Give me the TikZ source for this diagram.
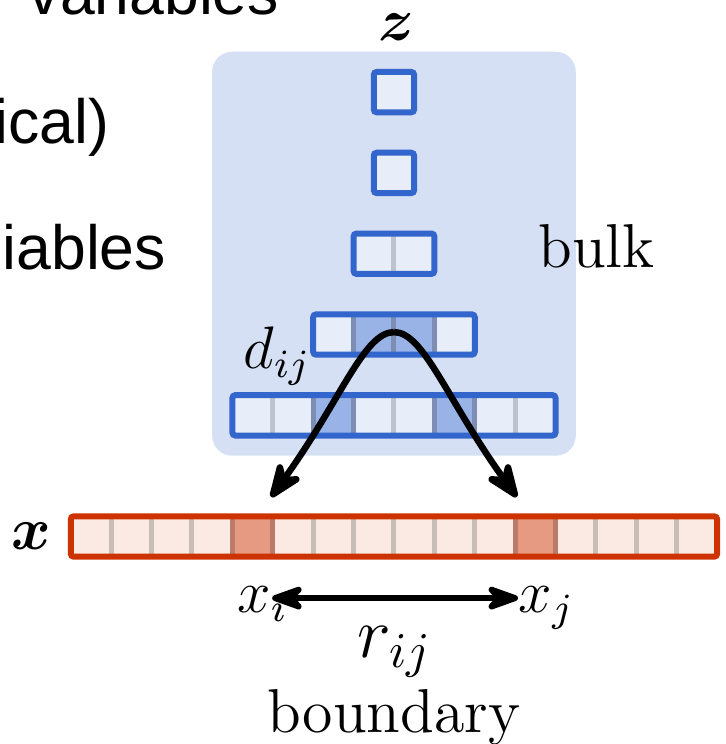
\documentclass[tikz,border=0pt]{standalone}
\usepackage{amsmath}
\usepackage{fontspec}
\newfontfamily\sidesans{Liberation Sans}
\usetikzlibrary{arrows.meta,positioning}

\definecolor{bulkbg}{HTML}{D5E0F4}
\definecolor{rowblue}{HTML}{3366CC}
\definecolor{cellblue}{HTML}{E8EEF9}
\definecolor{hotblue}{HTML}{9AB3E6}
\definecolor{sepblue}{HTML}{BFC3CD}
\definecolor{sephotblue}{HTML}{7D8DB4}
\definecolor{rowred}{HTML}{CC3300}
\definecolor{cellred}{HTML}{FAEAE3}
\definecolor{hotred}{HTML}{E69A82}
\definecolor{sepred}{HTML}{C9BEB7}
\definecolor{sephotred}{HTML}{BA7B6A}

\begin{document}
\begin{tikzpicture}[x=8.08pt, y=8.08pt, >={Stealth[length=9pt,width=7pt,round]},
    rowb/.style={draw=rowblue, line width=1.2pt, rounded corners=0.6pt},
    rowr/.style={draw=rowred, line width=1.2pt, rounded corners=0.6pt},
    sep/.style={line width=1pt},
    lbl/.style={inner sep=0pt, font=\large},
    word/.style={inner sep=0pt, font=\fontsize{12.4}{15}\selectfont},
    side/.style={inner sep=0pt, anchor=base east, font=\fontsize{12.5}{15}\sidesans}]

    \clip (-9.752,-5.136) rectangle (8.218,13.28);

    % Side text, cut by the frame
    \node[side] (s1) at (-2.82,12.91) {variables};
    \node[side] (s2) at (-7.03,9.74) {ical)};
    \node[side] (s3) at (-5.62,6.60) {iables};

    % Bulk
    \fill[bulkbg, rounded corners=4pt] (-4.5,2) rectangle (4.5,12);
    \node[word, anchor=base west] (bulk) at (3.55,6.67) {bulk};
    \node[lbl, anchor=base] (z) at (0.07,12.29) {$\boldsymbol{z}$};

    % Layers of the bulk, top to bottom
    \foreach \y/\n in {11/0.5, 9/0.5, 7/1, 5/2, 3/4}
        \fill[cellblue] (-\n,\y-0.5) rectangle (\n,\y+0.5);
    \fill[hotblue] (-1,4.5) rectangle (1,5.5);
    \fill[hotblue] (-2,2.5) rectangle (-1,3.5) (1,2.5) rectangle (2,3.5);
    \draw[sep, sepblue] (0,6.5) -- (0,7.5);
    \foreach \x in {-3,...,3}
        \draw[sep, sepblue] (\x,2.5) -- (\x,3.5);
    \foreach \x in {-1,0,1}
        \draw[sep, sephotblue] (\x,4.5) -- (\x,5.5);
    \foreach \x in {-2,-1,1,2}
        \draw[sep, sephotblue] (\x,2.5) -- (\x,3.5);
    \foreach \y/\n in {11/0.5, 9/0.5, 7/1, 5/2, 3/4}
        \draw[rowb] (-\n,\y-0.5) rectangle (\n,\y+0.5);
    \node[lbl, anchor=base west] (dij) at (-3.74,4.17) {$d_{ij}$};

    % Boundary
    \fill[cellred] (-8,-0.5) rectangle (8,0.5);
    \fill[hotred] (-4,-0.5) rectangle (-3,0.5) (3,-0.5) rectangle (4,0.5);
    \foreach \x in {-7,...,7}
        \draw[sep, sepred] (\x,-0.5) -- (\x,0.5);
    \foreach \x in {-4,-3,3,4}
        \draw[sep, sephotred] (\x,-0.5) -- (\x,0.5);
    \draw[rowr] (-8,-0.5) rectangle (8,0.5);
    \node[lbl, anchor=base east] (x) at (-8.47,-0.33) {$\boldsymbol{x}$};

    % Bulk to boundary
    \coordinate (peak) at (0,5.06);
    \coordinate (tipl) at (-3.04,0.98);
    \coordinate (tipr) at (3.04,0.98);
    \draw[->, line width=1.3pt] (peak) .. controls +(-0.74,0) and +(1.73,2.4) .. (tipl);
    \draw[->, line width=1.3pt] (peak) .. controls +(0.74,0) and +(-1.73,2.4) .. (tipr);

    % Distance on the boundary
    \node[lbl, anchor=base west] (xi) at (-3.89,-1.89) {$x_i$};
    \node[lbl, anchor=base west] (xj) at (3.07,-1.89) {$x_j$};
    \draw[{Stealth[length=8.5pt,width=6pt,round]}-{Stealth[length=8.5pt,width=6pt,round]}, line width=1.2pt]
        ([xshift=-3.4pt, yshift=0.8pt]xi.mid east) -- ([yshift=0.8pt]xj.mid west)
        node[midway, below=5pt, inner sep=0pt, font=\Large] (rij) {$r_{ij}$};
    \node[word, anchor=base] (bnd) at (0,-4.86) {boundary};

\end{tikzpicture}
\end{document}
